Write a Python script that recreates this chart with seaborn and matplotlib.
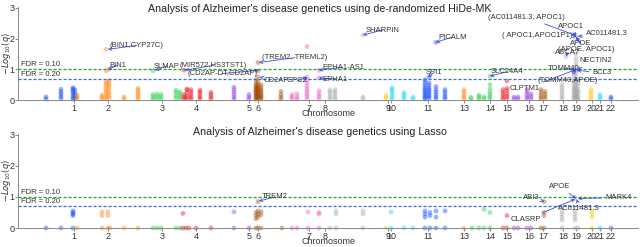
import matplotlib
matplotlib.use("Agg")
import matplotlib.pyplot as plt
import seaborn as sns
import pandas as pd

# chromosome label positions on the genome axis
chrom_ticks = [1, 2, 3, 4, 5, 6, 7, 8, 9, 10, 11, 13, 14, 15, 16, 17, 18, 19, 20, 21, 22]
tick_pos = [74, 108, 162, 196, 249, 258, 309, 325, 388, 391, 428, 464, 490, 507, 529, 543,
            563, 576, 592, 600, 611]

# colours by chromosome (seaborn "bright")
chrom_colors = {1: 0, 2: 1, 3: 2, 4: 3, 5: 4, 6: 5, 7: 6, 8: 7, 9: 8, 10: 9, 11: 0, 13: 1,
                14: 2, 15: 3, 16: 4, 17: 5, 18: 7, 19: 7, 20: 8, 21: 9, 22: 0}

# HiDe-MK: (chromosome, position, -log10 q values)
hidemk_cols = [
    (1, 46, [0.03, 0.1]),
    (1, 61, [0.05, 0.12, 0.2, 0.27, 0.35]),
    (1, 73, [0.03, 0.09, 0.16, 0.24, 0.3, 0.36, 0.4]),
    (1, 75, [0.05, 0.14, 0.22, 0.33]),
    (2, 77, [0.05, 0.1, 0.17]),
    (2, 102, [0.04, 0.1, 0.16]),
    (2, 106, [0.03, 0.1, 0.18, 0.27, 0.35, 0.44, 0.52, 0.6, 0.95, 1.65]),
    (2, 109, [0.06, 0.14, 0.22, 0.31, 0.4, 0.48, 0.56, 0.65, 1.0]),
    (2, 124, [0.04, 0.1]),
    (2, 138, [0.04, 0.1, 0.17, 0.24, 0.31, 0.38]),
    (3, 153, [0.04, 0.1, 0.18, 0.95]),
    (3, 157, [0.05, 0.12, 0.2]),
    (3, 161, [0.04, 0.1, 0.18]),
    (3, 176, [0.06, 0.14, 0.24, 0.32]),
    (3, 180, [0.05, 0.12, 0.2, 0.27]),
    (4, 184, [0.04, 0.1, 0.18, 0.97]),
    (4, 187, [0.05, 0.12, 0.22, 0.32, 0.36]),
    (4, 191, [0.04, 0.1, 0.18, 0.26, 0.34]),
    (4, 200, [0.04, 0.1, 0.18, 0.26, 0.32]),
    (4, 211, [0.04, 0.1, 0.18, 0.25]),
    (5, 234, [0.04, 0.1, 0.18, 0.26, 0.34, 0.42]),
    (5, 249, [0.04, 0.1, 0.18]),
    (6, 256, [0.02, 0.06, 0.1, 0.14, 0.18, 0.22, 0.26, 0.3, 0.34, 0.38, 0.43, 0.48, 0.55, 0.65]),
    (6, 258, [0.04, 0.08, 0.12, 0.16, 0.2, 0.24, 0.28, 0.32, 0.36, 0.4, 0.45, 0.5, 0.6, 0.75,
              0.95, 1.22]),
    (6, 261, [0.03, 0.07, 0.11, 0.15, 0.2, 0.25, 0.3, 0.35, 0.42, 0.5]),
    (6, 281, [0.04, 0.1, 0.18, 0.28]),
    (7, 292, [0.04, 0.1, 0.17]),
    (7, 297, [0.04, 0.1, 0.2]),
    (7, 307, [0.04, 0.12, 0.2, 0.28, 0.36, 0.45, 0.55, 0.65, 0.75, 1.74]),
    (7, 319, [0.04, 0.12, 0.2, 0.3, 0.72, 0.97]),
    (8, 330, [0.04, 0.1, 0.18, 0.26, 0.33]),
    (8, 335, [0.04, 0.1, 0.18, 0.26, 0.33]),
    (8, 363, [0.04, 0.1, 2.12]),
    (9, 386, [0.04, 0.1, 0.16]),
    (10, 392, [0.04, 0.1, 0.18, 0.26, 0.34, 0.4]),
    (10, 404, [0.04, 0.1, 0.18, 0.24]),
    (10, 413, [0.04, 0.09]),
    (11, 425, [0.03, 0.08, 0.13, 0.18, 0.24, 0.3, 0.36, 0.42, 0.5, 0.58, 0.66]),
    (11, 429, [0.05, 0.1, 0.16, 0.22, 0.28, 0.34, 0.4, 0.48, 0.56, 0.75]),
    (11, 436, [0.04, 0.1, 0.18, 0.26, 0.34, 0.44, 1.88]),
    (11, 445, [0.04, 0.1, 0.18, 0.26, 0.34]),
    (13, 464, [0.04, 0.1, 0.18, 0.26, 0.34]),
    (14, 471, [0.04, 0.09]),
    (14, 479, [0.04, 0.1, 0.16]),
    (14, 484, [0.04, 0.1]),
    (14, 490, [0.04, 0.1, 0.18, 0.26, 0.36, 0.5, 0.78]),
    (15, 503, [0.04, 0.1, 0.18, 0.26, 0.34]),
    (15, 507, [0.05, 0.12, 0.2, 0.3, 0.38, 0.62]),
    (16, 514, [0.04, 0.1]),
    (16, 518, [0.04, 0.1]),
    (16, 527, [0.04, 0.1, 0.18, 0.26, 0.34]),
    (16, 531, [0.05, 0.12, 0.2]),
    (17, 541, [0.04, 0.1, 0.18, 0.26, 0.34]),
    (17, 545, [0.05, 0.12, 0.2, 0.28]),
    (18, 562, [0.04, 0.1, 0.18, 0.26, 0.34, 0.42, 0.5]),
    (19, 566, [1.42]),
    (19, 574, [0.03, 0.08, 0.13, 0.18, 0.24, 0.3, 0.36, 0.42, 0.5, 0.6, 0.7, 0.82]),
    (19, 576, [0.05, 0.1, 0.16, 0.22, 0.28, 0.34, 0.4, 0.48, 0.56, 0.66, 0.78, 0.9, 0.98,
               1.1, 1.22, 1.35, 1.5, 2.05, 2.1]),
    (19, 578, [0.02, 0.07, 0.12, 0.2, 0.27, 0.33, 0.45, 0.55, 0.65, 0.97]),
    (20, 591, [0.04, 0.1, 0.18, 0.26, 0.34]),
    (21, 600, [0.04, 0.1, 0.18]),
    (22, 611, [0.04, 0.1]),
]

# Lasso: (chromosome, position, -log10 q values)
lasso_cols = [
    (1, 46, [0.0]), (1, 61, [0.0]), (1, 73, [0.0, 0.4, 0.45, 0.5, 0.55]),
    (2, 77, [0.0]), (2, 102, [0.0, 0.4, 0.52]), (2, 108, [0.0, 0.4, 0.52]),
    (2, 110, [0.0]), (2, 124, [0.0]), (2, 138, [0.0]),
    (3, 153, [0.0]), (3, 157, [0.0]), (3, 161, [0.0]), (3, 176, [0.0]), (3, 180, [0.0]),
    (4, 183, [0.0, 0.47]), (4, 186, [0.0]), (4, 189, [0.0]), (4, 196, [0.0]), (4, 211, [0.0]),
    (5, 234, [0.0, 0.52]), (5, 249, [0.0]),
    (6, 256, [0.0, 0.3, 0.4, 0.5]), (6, 258, [0.0, 0.35, 0.45, 0.55, 0.85]),
    (6, 261, [0.0, 0.42, 0.52]), (6, 282, [0.0]),
    (7, 292, [0.0]), (7, 297, [0.0]), (7, 308, [0.0, 0.52]), (7, 319, [0.0, 0.45, 0.5]),
    (8, 330, [0.0]), (8, 336, [0.0, 0.45, 0.55]), (8, 363, [0.0, 0.45, 0.55]),
    (9, 386, [0.0]),
    (10, 391, [0.0, 0.52]), (10, 404, [0.0]), (10, 413, [0.0]),
    (11, 425, [0.0, 0.35, 0.45, 0.55]), (11, 430, [0.0, 0.4, 0.5]),
    (11, 436, [0.0, 0.35, 0.55]), (11, 445, [0.0, 0.55]),
    (13, 464, [0.0]),
    (14, 472, [0.0]), (14, 479, [0.0]), (14, 484, [0.0, 0.6]), (14, 490, [0.0, 0.5]),
    (15, 503, [0.0]), (15, 507, [0.0, 0.4]),
    (16, 514, [0.0]), (16, 518, [0.0]), (16, 527, [0.0]), (16, 531, [0.0]),
    (17, 541, [0.0]), (17, 544, [0.0, 0.4, 0.5, 0.85]),
    (18, 562, [0.0, 0.25, 0.35, 0.45, 0.55]),
    (19, 575, [0.0, 0.25, 0.35, 0.45, 0.55, 0.95]), (19, 578, [0.0]),
    (20, 592, [0.0, 0.35, 0.45, 0.55]),
    (21, 600, [0.0]),
    (22, 611, [0.0]),
]

# annotations: (label, point x, point y, text x, text y, alignment)
hidemk_notes = [
    ("(BIN1,CYP27C)", 108, 1.65, 110, 1.78, "left"),
    ("BIN1", 108, 1.0, 109, 1.13, "left"),
    ("SLMAP", 155, 0.97, 154, 1.1, "left"),
    ("(MIR572,HS3TST1)", 185, 0.97, 180, 1.13, "left"),
    ("(CD2AP-DT,CD2AP)", 259, 0.97, 257, 0.86, "right"),
    ("(TREM2, TREML2)", 259, 1.22, 262, 1.38, "left"),
    ("CD2AP", 260, 0.75, 264, 0.62, "left"),
    ("GPC2", 307, 0.75, 287, 0.62, "left"),
    ("EPHA1-AS1", 319, 0.97, 322, 1.07, "left"),
    ("EPHA1", 319, 0.72, 322, 0.68, "left"),
    ("SHARPIN", 363, 2.12, 366, 2.28, "left"),
    ("PICALM", 436, 1.88, 438, 2.05, "left"),
    ("SPI1", 428, 0.75, 426, 0.9, "left"),
    ("SLC24A4", 490, 0.78, 491, 0.92, "left"),
    ("CLPTM1", 575, 0.98, 510, 0.36, "left"),
    ("(TOMM40,APOE)", 576, 0.98, 537, 0.62, "left"),
    ("TOMM40", 576, 0.98, 548, 1.04, "left"),
    ("NECTIN2", 577, 0.98, 579, 1.28, "left"),
    ("BCL3", 577, 0.97, 592, 0.88, "left"),
    ("ABCA7", 566, 1.42, 555, 1.54, "left"),
    ("(APOE, APOC1)", 576, 2.05, 558, 1.64, "left"),
    ("APOE", 576, 2.05, 570, 1.83, "left"),
    ("( APOC1,APOC1P1)", 576, 2.07, 572, 2.1, "right"),
    ("APOC1", 576, 2.08, 571, 2.4, "center"),
    ("AC011481.3", 578, 2.07, 586, 2.18, "left"),
    ("(AC011481.3, APOC1)", 576, 2.1, 488, 2.7, "left"),
]

lasso_notes = [
    ("TREM2", 259, 0.87, 262, 1.0, "left"),
    ("ABI3", 544, 0.86, 540, 0.97, "right"),
    ("APOE", 576, 0.95, 560, 1.33, "center"),
    ("MARK4", 578, 0.95, 605, 0.98, "left"),
    ("AC011481.3", 577, 0.93, 558, 0.62, "left"),
    ("CLASRP", 575, 0.93, 511, 0.27, "left"),
]

titles = ["Analysis of Alzheimer's disease genetics using de-randomized HiDe-MK",
          "Analysis of Alzheimer's disease genetics using Lasso"]


def to_frame(cols):
    rows = []
    for chrom, pos, ys in cols:
        for y in ys:
            rows.append({"chrom": chrom, "pos": pos, "logq": y})
    return pd.DataFrame(rows)


sns.set_style("ticks")
plt.rcParams["font.family"] = ["Liberation Sans", "DejaVu Sans"]
bright = sns.color_palette("bright", 10)
palette = {c: bright[i] for c, i in chrom_colors.items()}

fig = plt.figure(figsize=(6.4, 2.47), dpi=100)
ax_top = fig.add_axes([18 / 640, 1 - 100 / 247, 620 / 640, 93 / 247])
ax_bot = fig.add_axes([18 / 640, 1 - 228 / 247, 620 / 640, 94 / 247])

panels = [(ax_top, hidemk_cols, hidemk_notes, titles[0], 9),
          (ax_bot, lasso_cols, lasso_notes, titles[1], 132)]
for ax, cols, notes, title, title_y in panels:
    df = to_frame(cols)
    sns.scatterplot(data=df, x="pos", y="logq", hue="chrom", palette=palette, ax=ax,
                    s=12, alpha=0.4, linewidth=0, legend=False, clip_on=False)

    ax.axhline(1.0, color="#2ca02c", linestyle="--", linewidth=0.9, dashes=(2.5, 1.5))
    ax.axhline(0.699, color="#3a6fd8", linestyle="--", linewidth=0.9, dashes=(2.5, 1.5))
    ax.text(21, 1.03, "FDR = 0.10", fontsize=5.5, color="#333333", va="bottom")
    ax.text(21, 0.73, "FDR = 0.20", fontsize=5.5, color="#333333", va="bottom")

    for label, px, py, tx, ty, ha in notes:
        ax.annotate(label, xy=(px, py), xytext=(tx, ty), fontsize=5.5, color="#333333",
                    ha=ha, va="center",
                    arrowprops=dict(arrowstyle="->", color="#3b50e0", lw=0.6,
                                    shrinkA=0, shrinkB=0, mutation_scale=5))

    ax.set_xlim(18, 638)
    ax.set_ylim(0, 3.03)
    ax.set_yticks([0, 1, 2, 3])
    ax.set_xticks(tick_pos)
    ax.set_xticklabels([str(c) for c in chrom_ticks])
    ax.tick_params(axis="both", labelsize=6.5, length=2, width=0.6, pad=0.8,
                   color="#777777", labelcolor="#333333")
    ax.tick_params(axis="y", pad=0.5)
    ax.set_xlabel("Chromosome", fontsize=6.5, color="#333333")
    ax.xaxis.set_label_coords(0.5, -0.1)
    ax.set_ylabel(r"$-Log_{10}(q)$", fontsize=6, color="#333333", va="center")
    ax.yaxis.set_label_coords(-0.019, 0.5)
    for side in ["top", "right"]:
        ax.spines[side].set_visible(False)
    for side in ["left", "bottom"]:
        ax.spines[side].set_color("#888888")
        ax.spines[side].set_linewidth(0.7)

    fig.text(0.5, 1 - title_y / 247, title, ha="center", va="center", fontsize=7.7,
             color="#222222")

fig.savefig("out.png", dpi=100, facecolor="white")
